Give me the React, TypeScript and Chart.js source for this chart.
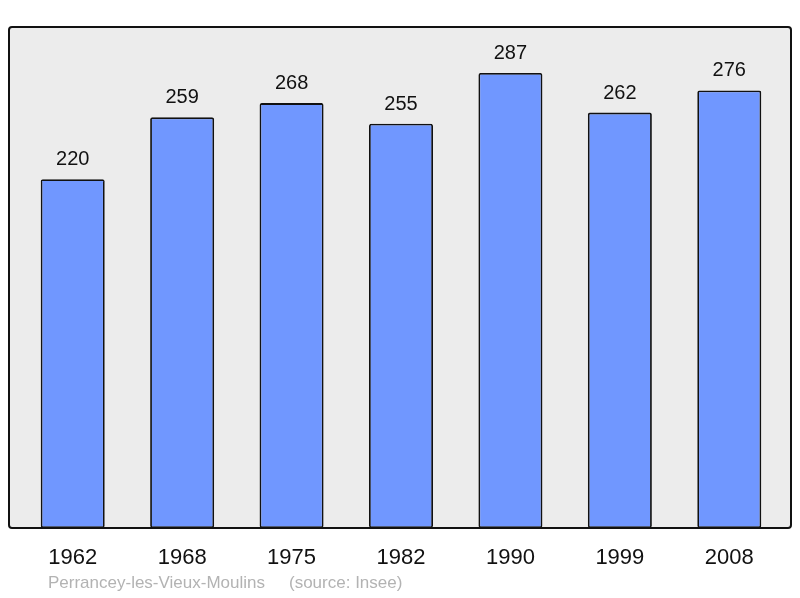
import React, { useEffect, useRef } from "react";
import { Chart, registerables } from "chart.js";

Chart.register(...registerables);

const years = ["1962", "1968", "1975", "1982", "1990", "1999", "2008"];
const population = [220, 259, 268, 255, 287, 262, 276];
const yMax = 316;
const placeName = "Perrancey-les-Vieux-Moulins";
const sourceText = "(source: Insee)";

const FONT = "'Liberation Sans', Arial, sans-serif";

const boxPlugin = {
  id: "boxPlugin",
  beforeDatasetsDraw(chart: any) {
    const { ctx, chartArea } = chart;
    const l = chartArea.left - 9;
    const r = chartArea.right + 7;
    const t = chartArea.top;
    const b = chartArea.bottom;
    ctx.save();
    ctx.beginPath();
    ctx.roundRect(l, t, r - l, b - t, 3);
    ctx.fillStyle = "#ececec";
    ctx.fill();
    ctx.restore();
  },
  afterDatasetsDraw(chart: any) {
    const { ctx, chartArea, scales } = chart;
    const l = chartArea.left - 9;
    const r = chartArea.right + 7;
    const t = chartArea.top;
    const b = chartArea.bottom;
    ctx.save();
    ctx.beginPath();
    ctx.roundRect(l, t, r - l, b - t, 3);
    ctx.lineWidth = 2;
    ctx.strokeStyle = "#111";
    ctx.stroke();

    // value labels
    const meta = chart.getDatasetMeta(0);
    ctx.fillStyle = "#111";
    ctx.textAlign = "center";
    ctx.textBaseline = "alphabetic";
    ctx.font = `20px ${FONT}`;
    meta.data.forEach((bar: any, i: number) => {
      ctx.fillText(String(population[i]), bar.x, bar.y - 14);
    });

    // year labels
    ctx.font = `22px ${FONT}`;
    years.forEach((y, i) => {
      const x = scales.x.getPixelForTick(i);
      ctx.fillText(y, x, b + 36);
    });

    // source
    ctx.textAlign = "left";
    ctx.fillStyle = "#b3b3b3";
    ctx.font = `17px ${FONT}`;
    ctx.fillText(placeName, 48, b + 60);
    ctx.fillText(sourceText, 289, b + 60);
    ctx.restore();
  },
};

export default function App() {
  const ref = useRef<HTMLCanvasElement>(null);
  useEffect(() => {
    if (!ref.current) return;
    const chart = new Chart(ref.current, {
      type: "bar",
      data: {
        labels: years,
        datasets: [
          {
            data: population,
            backgroundColor: "#7097ff",
            borderColor: "#111",
            borderWidth: 1.8,
            borderRadius: 2,
            borderSkipped: false,
            barPercentage: 0.585,
            categoryPercentage: 1,
          },
        ],
      },
      options: {
        responsive: false,
        animation: false,
        devicePixelRatio: 1,
        layout: { padding: { left: 18, right: 16, top: 27, bottom: 70 } },
        plugins: {
          legend: { display: false },
          tooltip: { enabled: false },
        },
        scales: {
          x: { display: false },
          y: { display: false, min: 0, max: yMax },
        },
      },
      plugins: [boxPlugin],
    });
    return () => chart.destroy();
  }, []);
  return (
    <div style={{ position: "absolute", left: 0, top: 0, width: 800, height: 598 }}>
      <canvas ref={ref} width={800} height={598} style={{ display: "block" }} />
    </div>
  );
}
